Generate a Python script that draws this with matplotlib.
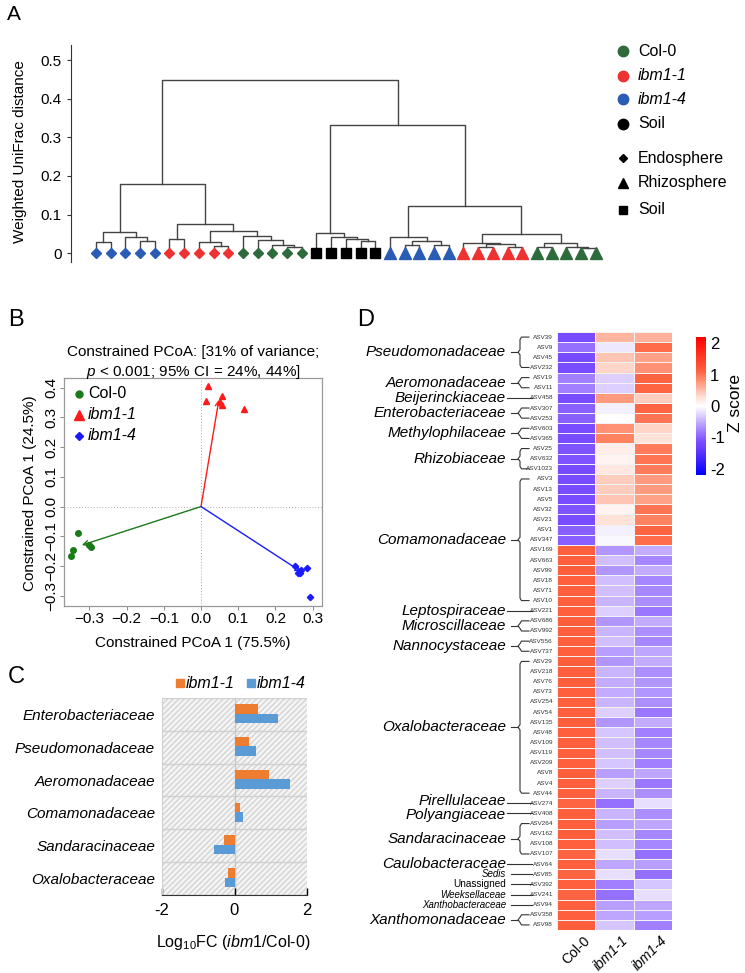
import numpy as np
import matplotlib
matplotlib.use("Agg")
import matplotlib.pyplot as plt
from matplotlib.colors import LinearSegmentedColormap, Normalize

plt.rcParams['font.family'] = ['Liberation Sans', 'DejaVu Sans']
plt.rcParams['mathtext.fontset'] = 'custom'
plt.rcParams['mathtext.rm'] = 'Liberation Sans'
plt.rcParams['mathtext.it'] = 'Liberation Sans:italic'

# ---------------- panel A: dendrogram (height, left, right); leaves are ints
blue_endo = (0.054, (0.030, 0, 1), (0.043, 2, (0.031, 3, 4)))
red_endo_a = (0.037, 5, 6)
red_endo_b = (0.028, 7, (0.019, 8, 9))
green_endo = (0.045, 10, (0.033, 11, (0.021, 12, (0.017, 13, 14))))
soil_tree = (0.051, 15, (0.043, 16, (0.036, 17, (0.031, 18, 19))))
blue_rhizo = (0.043, 20, (0.032, (0.021, 21, 22), (0.021, 23, 24)))
red_rhizo = (0.026, 25, (0.024, (0.017, 26, 27), (0.017, 28, 29)))
green_rhizo = (0.027, (0.015, 30, 31), (0.017, 32, (0.013, 33, 34)))
left_tree = (0.178, blue_endo, (0.075, red_endo_a, (0.056, red_endo_b, green_endo)))
right_tree = (0.333, soil_tree, (0.123, blue_rhizo, (0.049, red_rhizo, green_rhizo)))
root_tree = (0.448, left_tree, right_tree)

leaf_genotype = (['ibm1-4'] * 5 + ['ibm1-1'] * 5 + ['Col-0'] * 5 + ['Soil'] * 5
                 + ['ibm1-4'] * 5 + ['ibm1-1'] * 5 + ['Col-0'] * 5)
leaf_compartment = ['Endosphere'] * 15 + ['Soil'] * 5 + ['Rhizosphere'] * 15

# ---------------- panel B: constrained PCoA
col0_x = [-0.331, -0.345, -0.348, -0.300, -0.295]
col0_y = [-0.090, -0.147, -0.167, -0.128, -0.137]
ibm11_x = [0.019, 0.013, 0.056, 0.051, 0.056, 0.116]
ibm11_y = [0.407, 0.357, 0.373, 0.353, 0.343, 0.330]
ibm14_x = [0.253, 0.269, 0.285, 0.261, 0.266, 0.293]
ibm14_y = [-0.200, -0.213, -0.207, -0.223, -0.223, -0.303]
centroid_x = [-0.320, 0.048, 0.270]
centroid_y = [-0.130, 0.360, -0.220]

# ---------------- panel C: log10 fold change
families_c = ['Enterobacteriaceae', 'Pseudomonadaceae', 'Aeromonadaceae',
              'Comamonadaceae', 'Sandaracinaceae', 'Oxalobacteraceae']
fc_ibm11 = [0.65, 0.40, 0.95, 0.14, -0.29, -0.18]
fc_ibm14 = [1.20, 0.60, 1.52, 0.24, -0.57, -0.27]

# ---------------- panel D: z-score heatmap
asv_names = ['ASV39', 'ASV9', 'ASV45', 'ASV232', 'ASV19', 'ASV11', 'ASV458', 'ASV307',
             'ASV253', 'ASV603', 'ASV365', 'ASV25', 'ASV632', 'ASV1023', 'ASV3', 'ASV13',
             'ASV5', 'ASV32', 'ASV21', 'ASV1', 'ASV347', 'ASV169', 'ASV663', 'ASV99',
             'ASV18', 'ASV71', 'ASV10', 'ASV221', 'ASV686', 'ASV992', 'ASV556', 'ASV737',
             'ASV29', 'ASV218', 'ASV76', 'ASV73', 'ASV254', 'ASV54', 'ASV135', 'ASV48',
             'ASV109', 'ASV119', 'ASV209', 'ASV8', 'ASV4', 'ASV44', 'ASV274', 'ASV408',
             'ASV264', 'ASV162', 'ASV108', 'ASV107', 'ASV64', 'ASV85', 'ASV392', 'ASV241',
             'ASV94', 'ASV358', 'ASV98']
z_col0 = [-1.15, -0.9, -1.15, -1.15, -0.8, -0.8, -1.15, -1.0, -1.0, -1.15, -1.15, -1.1,
          -1.1, -1.15, -1.15, -1.15, -1.15, -1.1, -1.15, -1.0, -1.0,
          1.15, 1.15, 1.15, 1.15, 1.15, 1.15, 1.15, 1.15, 1.15, 1.15, 1.15, 1.15, 1.15,
          1.15, 1.15, 1.15, 1.15, 1.15, 1.15, 1.15, 1.15, 1.15, 1.15, 1.15, 1.15, 1.1,
          1.15, 1.15, 1.15, 1.15, 1.1, 1.15, 1.1, 1.15, 1.1, 1.15, 1.15, 1.15]
z_ibm11 = [0.55, -0.15, 0.45, 0.35, -0.3, -0.3, 0.75, -0.1, 0.0, 0.8, 0.9, 0.15, 0.1,
           0.2, 0.4, 0.4, 0.45, 0.1, 0.25, -0.1, -0.05,
           -0.65, -0.4, -0.65, -0.4, -0.4, -0.45, -0.3, -0.65, -0.45, -0.4, -0.6, -0.65,
           -0.45, -0.5, -0.5, -0.45, -0.3, -0.65, -0.35, -0.4, -0.4, -0.35, -0.6, -0.3,
           -0.45, -0.9, -0.45, -0.6, -0.4, -0.4, -0.2, -0.55, -0.2, -0.8, -0.9, -0.6,
           -0.55, -0.35]
z_ibm14 = [0.6, 1.05, 0.7, 0.8, 1.1, 1.1, 0.4, 1.1, 1.0, 0.35, 0.25, 0.95, 1.0, 0.95,
           0.75, 0.75, 0.7, 1.0, 0.9, 1.1, 1.05,
           -0.5, -0.75, -0.5, -0.75, -0.75, -0.7, -0.85, -0.5, -0.7, -0.75, -0.55, -0.5,
           -0.7, -0.65, -0.65, -0.7, -0.85, -0.5, -0.8, -0.75, -0.75, -0.8, -0.55, -0.85,
           -0.7, -0.2, -0.7, -0.55, -0.75, -0.75, -0.9, -0.6, -0.9, -0.35, -0.2, -0.55,
           -0.6, -0.8]
heat_columns = ['Col-0', 'ibm1-1', 'ibm1-4']
# family label, first row, last row (0-based), style
family_groups = [('Pseudomonadaceae', 0, 3, 'big'), ('Aeromonadaceae', 4, 5, 'big'),
                 ('Beijerinckiaceae', 6, 6, 'big'), ('Enterobacteriaceae', 7, 8, 'big'),
                 ('Methylophilaceae', 9, 10, 'big'), ('Rhizobiaceae', 11, 13, 'big'),
                 ('Comamonadaceae', 14, 26, 'big'), ('Leptospiraceae', 27, 27, 'big'),
                 ('Microscillaceae', 28, 29, 'big'), ('Nannocystaceae', 30, 31, 'big'),
                 ('Oxalobacteraceae', 32, 45, 'big'), ('Pirellulaceae', 46, 46, 'big'),
                 ('Polyangiaceae', 47, 47, 'big'), ('Sandaracinaceae', 48, 51, 'big'),
                 ('Caulobacteraceae', 52, 52, 'big'), ('Sedis', 53, 53, 'small'),
                 ('Unassigned', 54, 54, 'plain'), ('Weeksellaceae', 55, 55, 'small'),
                 ('Xanthobacteraceae', 56, 56, 'small'), ('Xanthomonadaceae', 57, 58, 'big')]

geno_colors = {'Col-0': '#2e6b3c', 'ibm1-1': '#ee3131', 'ibm1-4': '#2a5cb5', 'Soil': '#000000'}
comp_markers = {'Endosphere': 'D', 'Rhizosphere': '^', 'Soil': 's'}
comp_sizes = {'Endosphere': 5, 'Rhizosphere': 8.5, 'Soil': 6.8}

W, H = 745, 973


def box(l, t, r, b):
    return [l / W, 1 - b / H, (r - l) / W, (b - t) / H]


def ftext(x, y, s, **kw):
    fig.text(x / W, 1 - y / H, s, **kw)


def fmarker(x, y, **kw):
    fig.lines.append(plt.Line2D([x / W], [1 - y / H], ls='none', transform=fig.transFigure, **kw))


fig = plt.figure(figsize=(W / 100, H / 100), dpi=100)

# ================= A
ftext(7, 14, 'A', fontsize=15, va='center')
axA = fig.add_axes(box(71, 45, 610, 262))


def draw_tree(ax, node):
    # returns (x, height) of node
    if isinstance(node, int):
        return node, 0.0
    h, l, r = node
    xl, hl = draw_tree(ax, l)
    xr, hr = draw_tree(ax, r)
    ax.plot([xl, xl, xr, xr], [hl, h, h, hr], color='#444444', lw=1.0, zorder=1)
    return (xl + xr) / 2, h


draw_tree(axA, root_tree)
for i in range(len(leaf_genotype)):
    c = leaf_compartment[i]
    axA.plot(i, 0, marker=comp_markers[c], ms=comp_sizes[c], color=geno_colors[leaf_genotype[i]],
             ls='none', zorder=3, clip_on=False)
axA.set_xlim(-1.70, 34.97)
axA.set_ylim(-0.023, 0.539)
for s in ['top', 'right', 'bottom']:
    axA.spines[s].set_visible(False)
axA.spines['left'].set_color('#333333')
axA.set_xticks([])
axA.set_yticks([0, 0.1, 0.2, 0.3, 0.4, 0.5])
axA.set_yticklabels(['0', '0.1', '0.2', '0.3', '0.4', '0.5'], fontsize=11)
axA.tick_params(axis='y', length=3, width=0.8, color='#333333')
ftext(20, 152, 'Weighted UniFrac distance', rotation=90, fontsize=11, ha='center', va='center')

legA_geno = ['Col-0', 'ibm1-1', 'ibm1-4', 'Soil']
legA_y = [51, 76, 99, 124]
for g, y in zip(legA_geno, legA_y):
    fmarker(623, y, marker='o', ms=7.5, color=geno_colors[g])
    ftext(638, y, g, fontsize=11.5, va='center', style='italic' if g.startswith('ibm') else 'normal')
legA_comp = ['Endosphere', 'Rhizosphere', 'Soil']
legA_cy = [158, 183, 210]
for c, y in zip(legA_comp, legA_cy):
    fmarker(623, y, marker=comp_markers[c], ms=comp_sizes[c] * 0.9, color='black')
    ftext(638, y, c, fontsize=11.5, va='center')

# ================= B
ftext(8, 320, 'B', fontsize=17, va='center')
axB = fig.add_axes(box(64, 378, 322, 606))
axB.axhline(0, color='#aaaaaa', lw=0.7, ls=(0, (1, 2)), zorder=0)
axB.axvline(0, color='#aaaaaa', lw=0.7, ls=(0, (1, 2)), zorder=0)
centroid_colors = ['#1a7a1a', '#ff1a1a', '#1a1aff']
for cx, cy, cc in zip(centroid_x, centroid_y, centroid_colors):
    axB.annotate('', xy=(cx, cy), xytext=(0, 0),
                 arrowprops=dict(arrowstyle='->', color=cc, lw=1.0, mutation_scale=9,
                                 shrinkA=0, shrinkB=0))
axB.plot(col0_x, col0_y, 'o', color='#1a7a1a', ms=4)
axB.plot(ibm11_x, ibm11_y, '^', color='#ff1a1a', ms=5)
axB.plot(ibm14_x, ibm14_y, 'D', color='#1a1aff', ms=3.2)
axB.set_xlim(-0.368, 0.325)
axB.set_ylim(-0.335, 0.433)
axB.set_xticks([-0.3, -0.2, -0.1, 0.0, 0.1, 0.2, 0.3])
axB.set_xticklabels(['\u22120.3', '\u22120.2', '\u22120.1', '0.0', '0.1', '0.2', '0.3'], fontsize=11)
axB.set_yticks([-0.3, -0.2, -0.1, 0.0, 0.1, 0.2, 0.3, 0.4])
axB.set_yticklabels(['\u22120.3', '\u22120.2', '\u22120.1', '0.0', '0.1', '0.2', '0.3', '0.4'],
                    fontsize=11, rotation=90, va='center')
axB.tick_params(length=3, width=0.7, color='#888888', pad=1)
for s in axB.spines.values():
    s.set_color('#999999')
    s.set_linewidth(0.9)
ftext(193, 352, 'Constrained PCoA: [31% of variance;', fontsize=11, ha='center', va='center')
ftext(193, 372, r'$p$ < 0.001; 95% CI = 24%, 44%]', fontsize=11, ha='center', va='center')
ftext(193, 643, 'Constrained PCoA 1 (75.5%)', fontsize=11, ha='center', va='center')
ftext(30, 493, 'Constrained PCoA 1 (24.5%)', fontsize=11, ha='center', va='center', rotation=90)
legB = [('Col-0', 'o', '#1a7a1a', 5, 'normal'), ('ibm1-1', '^', '#ff1a1a', 6.5, 'italic'),
        ('ibm1-4', 'D', '#1a1aff', 4.5, 'italic')]
for (lab, mk, cc, ms, st), y in zip(legB, [394, 415, 436]):
    fmarker(79, y, marker=mk, ms=ms, color=cc)
    ftext(88, y, lab, fontsize=11.5, va='center', style=st)

# ================= C
ftext(8, 677, 'C', fontsize=17, va='center')
axC = fig.add_axes(box(162, 698, 307, 895))
n = len(families_c)
ypos = np.arange(n)[::-1]
axC.set_xlim(-2, 2)
axC.set_ylim(-0.5, n - 0.5)
axC.add_patch(plt.Rectangle((-2, -0.5), 4, n, facecolor='#f4f4f4', edgecolor='#d4d4d4',
                            hatch='//////', lw=0, zorder=0))
for k in range(n + 1):
    axC.axhline(k - 0.5, color='#d0d0d0', lw=1.0, zorder=1)
axC.axvline(0, color='#c8c8c8', lw=1.0, zorder=1)
bh = 0.29
axC.barh(ypos + 0.17, fc_ibm11, height=bh, color='#ed7d31', zorder=2)
axC.barh(ypos - 0.12, fc_ibm14, height=bh, color='#5b9bd5', zorder=2)
axC.set_yticks(ypos)
axC.set_yticklabels(families_c, fontsize=11, style='italic')
axC.tick_params(axis='y', length=0, pad=5)
axC.set_xticks([-2, 0, 2])
axC.set_xticklabels(['-2', '0', '2'], fontsize=12)
axC.tick_params(axis='x', direction='in', length=5, width=1, pad=6)
for s in ['top', 'right']:
    axC.spines[s].set_visible(False)
axC.spines['left'].set_color('#d0d0d0')
axC.spines['bottom'].set_color('#333333')
ftext(233, 943, r'Log$_{10}$FC ($\mathit{ibm1}$/Col-0)', fontsize=11.5, ha='center', va='center')
for lab, cc, xm in [('ibm1-1', '#ed7d31', 180), ('ibm1-4', '#5b9bd5', 251)]:
    fmarker(xm, 683, marker='s', ms=6, color=cc)
    ftext(xm + 6, 683, lab, fontsize=11.5, style='italic', va='center')

# ================= D
ftext(357, 320, 'D', fontsize=17, va='center')
nrow = len(asv_names)
Z = np.column_stack([z_col0, z_ibm11, z_ibm14])
cmap = LinearSegmentedColormap.from_list('zs', [
    (0.0, '#0000ff'), (0.19, '#6a3cff'), (0.24, '#7a4cff'), (0.365, '#b89eff'),
    (0.43, '#dcceff'), (0.5, '#ffffff'), (0.57, '#ffdcd0'), (0.635, '#ffb09a'),
    (0.705, '#ff8462'), (0.76, '#ff5f3d'), (1.0, '#ff0000')])
norm = Normalize(vmin=-2.2, vmax=2.2)
axD = fig.add_axes(box(557, 332, 672, 930))
mesh = axD.pcolormesh(np.arange(4), np.arange(nrow + 1), Z, cmap=cmap, norm=norm,
                      edgecolors='#f2f2f2', linewidth=0.6)
axD.set_xlim(0, 3)
axD.set_ylim(nrow, 0)
axD.axis('off')
for j, lab in enumerate(heat_columns):
    axD.text(j + 0.68, nrow + 0.35, lab, rotation=45, rotation_mode='anchor', ha='right',
             va='top', fontsize=10, style='normal' if j == 0 else 'italic', clip_on=False)

axL = fig.add_axes(box(340, 332, 557, 930))
axL.set_xlim(340, 557)
axL.set_ylim(nrow, 0)
axL.axis('off')
for i, nm in enumerate(asv_names):
    axL.text(553, i + 0.5, nm, fontsize=4.6, ha='right', va='center', color='#333333')
# the two stacked single-row labels sit a touch apart, as in the original
label_nudge = {'Pirellulaceae': -0.2, 'Polyangiaceae': 0.15}
for fam, a, b, kind in family_groups:
    yc = (a + b + 1) / 2
    if kind == 'big':
        kw = dict(fontsize=11, style='italic')
    elif kind == 'small':
        kw = dict(fontsize=7, style='italic')
    else:
        kw = dict(fontsize=7.2)
    axL.text(506, yc + label_nudge.get(fam, 0), fam, ha='right', va='center', **kw)
    if a == b:
        axL.plot([507 if kind == 'big' else 511, 532], [yc, yc], color='#333333', lw=0.8)
    else:
        ya, yb = a + 0.5, b + 0.5
        xb = 520
        axL.plot([529, xb + 1.5, xb, xb, xb - 2, xb, xb, xb + 1.5, 529],
                 [ya, ya, ya + 0.25, yc - 0.25, yc, yc + 0.25, yb - 0.25, yb, yb],
                 color='#333333', lw=0.8)
        axL.plot([511, xb - 2], [yc, yc], color='#333333', lw=0.8)

cax = fig.add_axes(box(696, 337, 706, 475))
cb = fig.colorbar(mesh, cax=cax, ticks=[-2, -1, 0, 1, 2])
cb.outline.set_visible(False)
cb.ax.set_yticklabels(['-2', '-1', '0', '1', '2'], fontsize=12)
cb.ax.tick_params(length=0, pad=3)
ftext(736, 403, 'Z score', rotation=90, fontsize=12.5, ha='center', va='center')

fig.savefig('out.png', dpi=100)
